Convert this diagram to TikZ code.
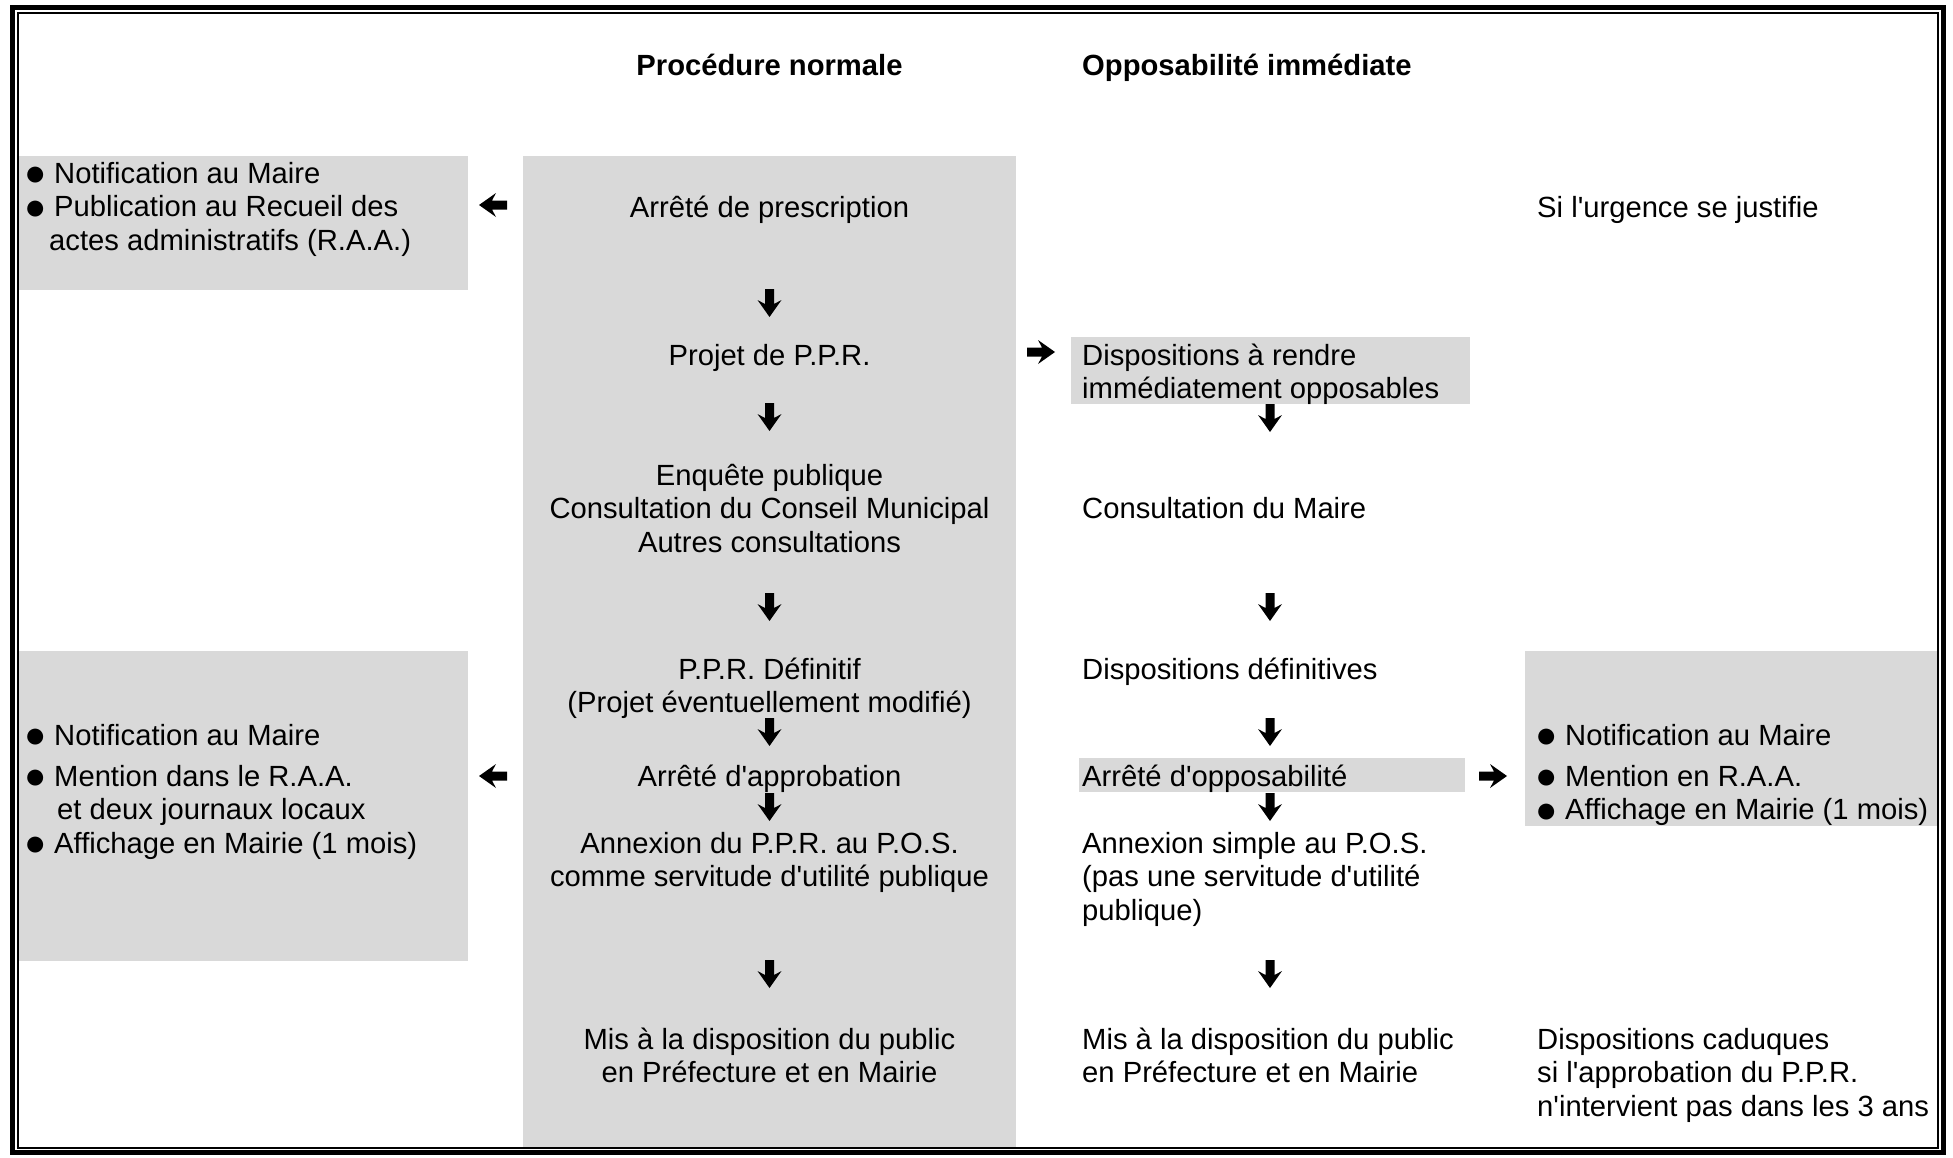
\documentclass[tikz,border=0pt]{standalone}
\usepackage{fontspec}
\setmainfont{Liberation Sans}[Ligatures=TeXOff]
\definecolor{fond}{RGB}{217,217,217}
\newcommand\puce{\makebox[30pt][l]{\raisebox{-2.5pt}{\fontsize{37}{0}\selectfont ●}}}

\begin{document}
\begin{tikzpicture}[x=1pt,y=-1pt,
  texte/.style={inner sep=0pt,font=\fontsize{29.2}{33.6}\selectfont},
  titre/.style={texte,anchor=base,font=\fontsize{29.2}{33.6}\selectfont\bfseries},
  centre/.style={texte,anchor=base,align=center},
  gauche/.style={texte,anchor=base west,align=left},
  fleche/.pic={\fill (-14,-4.5) -- (1,-4.5) -- (-3,-12) -- (14,0) -- (-3,12) -- (1,4.5) -- (-14,4.5) -- cycle;}]
\useasboundingbox (0,0) rectangle (1953,1157);
% fonds gris
\fill[fond] (523,156) rectangle (1016,1147);
\fill[fond] (18,156) rectangle (468,290);
\fill[fond] (18,651) rectangle (468,961);
\fill[fond] (1071,337) rectangle (1470,404);
\fill[fond] (1079,758) rectangle (1465,792);
\fill[fond] (1525,651) rectangle (1937,826);
% cadre double
\draw[line width=5pt] (12.5,7.5) rectangle (1943,1152.5);
\draw[line width=2pt] (17.5,12.5) rectangle (1938,1147.5);
% (la base d'un noeud a plusieurs lignes est celle de sa derniere ligne)
\node[titre] (normale) at (769.5,75) {Procédure normale};
\node[titre,anchor=base west] (immediate) at (1082,75) {Opposabilité immédiate};
%
\node[gauche] (notifA) at (24,250.2) {\puce Notification au Maire\\\puce Publication au Recueil des\\\hspace*{25pt}actes administratifs (R.A.A.)};
\node[gauche] (notifB) at (24,853.2) {\puce Notification au Maire\\[7.4pt]\puce Mention dans le R.A.A.\\\hspace*{33pt}et deux journaux locaux\\\puce Affichage en Mairie (1 mois)};
\node[gauche] (notifC) at (1535,819.6) {\puce Notification au Maire\\[7.4pt]\puce Mention en R.A.A.\\\puce Affichage en Mairie (1 mois)};
%
\node[centre] (prescription) at (769.5,217) {Arrêté de prescription};
\node[centre] (projet) at (769.5,365) {Projet de P.P.R.};
\node[centre] (enquete) at (769.5,552.2) {Enquête publique\\Consultation du Conseil Municipal\\Autres consultations};
\node[centre] (definitif) at (769.5,712.6) {P.P.R. Définitif\\(Projet éventuellement modifié)};
\node[centre] (approbation) at (769.5,786) {Arrêté d'approbation};
\node[centre] (annexion) at (769.5,886.6) {Annexion du P.P.R. au P.O.S.\\comme servitude d'utilité publique};
\node[centre] (public) at (769.5,1082.6) {Mis à la disposition du public\\en Préfecture et en Mairie};
%
\node[gauche] (disposRendre) at (1082,398.6) {Dispositions à rendre\\immédiatement opposables};
\node[gauche] (consultMaire) at (1082,518) {Consultation du Maire};
\node[gauche] (disposDef) at (1082,679) {Dispositions définitives};
\node[gauche] (opposabilite) at (1082,786) {Arrêté d'opposabilité};
\node[gauche] (annexSimple) at (1082,920.2) {Annexion simple au P.O.S.\\(pas une servitude d'utilité\\publique)};
\node[gauche] (publicBis) at (1082,1082.6) {Mis à la disposition du public\\en Préfecture et en Mairie};
%
\node[gauche] (urgence) at (1537,217) {Si l'urgence se justifie};
\node[gauche] (caduques) at (1537,1116.2) {Dispositions caduques\\si l'approbation du P.P.R.\\n'intervient pas dans les 3 ans};
%
\foreach \y in {303,417,607,732,807,974}
  \pic[rotate=-90] at (769.5,\y) {fleche};
\foreach \y in {418,607,732,807,974}
  \pic[rotate=-90] at (1270,\y) {fleche};
\pic[rotate=180] at (493,205) {fleche};
\pic[rotate=180] at (493,776) {fleche};
\pic at (1041,352) {fleche};
\pic at (1493,776) {fleche};
\end{tikzpicture}
\end{document}
